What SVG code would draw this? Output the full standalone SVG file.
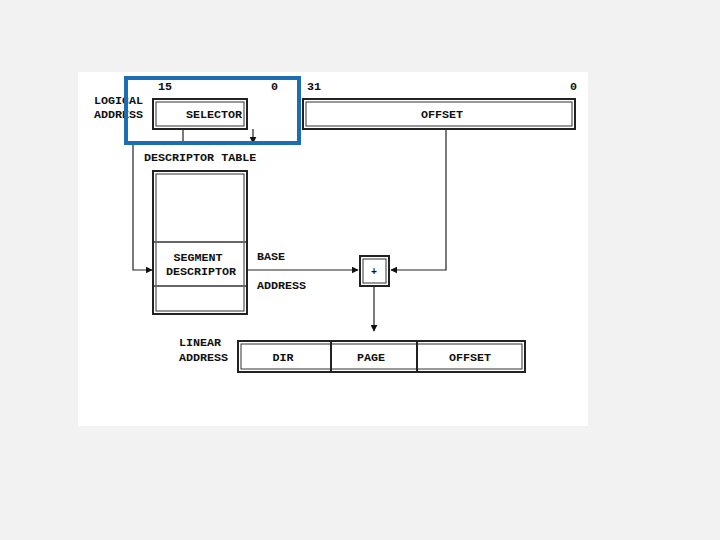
<svg xmlns="http://www.w3.org/2000/svg" width="720" height="540" viewBox="0 0 720 540">
<style>
text{font-family:"Liberation Mono","Courier New",monospace;font-size:11.7px;fill:#111;font-weight:bold}
.o{fill:#fff;stroke:#222;stroke-width:2}
.i{fill:none;stroke:#333;stroke-width:1}
.c{fill:none;stroke:#222;stroke-width:1.2}
.m{text-anchor:middle}
</style>
<defs>
<marker id="a" viewBox="0 0 10 10" refX="9" refY="5" markerWidth="7" markerHeight="7" markerUnits="userSpaceOnUse" orient="auto"><path d="M0,0L10,5L0,10z" fill="#111"/></marker>
</defs>
<rect width="720" height="540" fill="#f2f2f2"/>
<rect x="78" y="72" width="510" height="354" fill="#fff"/>
<g id="logical-label"><text x="94" y="104">LOGICAL</text><text x="94" y="118">ADDRESS</text></g>
<g id="selector">
<rect class="o" x="153" y="99" width="94" height="30"/><rect class="i" x="156" y="102" width="88" height="24"/>
<text class="m" x="214" y="118">SELECTOR</text>
<text x="158" y="90">15</text><text x="271" y="90">0</text>
</g>
<g id="offset">
<rect class="o" x="303" y="99" width="272" height="30"/><rect class="i" x="306" y="102" width="266" height="24"/>
<text class="m" x="442" y="118">OFFSET</text>
<text x="307" y="90">31</text><text x="570" y="90">0</text>
</g>
<g id="descriptor-table">
<text x="144" y="161">DESCRIPTOR TABLE</text>
<rect class="o" x="153" y="171" width="94" height="143"/><rect class="i" x="156" y="174" width="88" height="137"/>
<line x1="154" y1="242" x2="246" y2="242" stroke="#666" stroke-width="2"/>
<line x1="154" y1="286" x2="246" y2="286" stroke="#666" stroke-width="2"/>
<text class="m" x="198" y="261">SEGMENT</text><text class="m" x="201" y="275">DESCRIPTOR</text>
</g>
<g id="adder">
<rect class="o" x="360" y="256" width="29" height="30"/><rect class="i" x="363" y="259" width="23" height="24"/>
<text class="m" x="374" y="275" style="font-size:10px">+</text>
</g>
<g id="linear">
<text x="179" y="346">LINEAR</text><text x="179" y="361">ADDRESS</text>
<rect class="o" x="238" y="341" width="287" height="31"/><rect class="i" x="241" y="344" width="281" height="25"/>
<line x1="331" y1="342" x2="331" y2="371" stroke="#222" stroke-width="2"/>
<line x1="417" y1="342" x2="417" y2="371" stroke="#222" stroke-width="2"/>
<text class="m" x="283" y="361">DIR</text><text class="m" x="371" y="361">PAGE</text><text class="m" x="470" y="361">OFFSET</text>
</g>
<g id="labels"><text x="257" y="260">BASE</text><text x="257" y="289">ADDRESS</text></g>
<g id="connectors">
<line class="c" x1="183" y1="129" x2="183" y2="144" stroke="#777"/>
<line class="c" x1="253" y1="129" x2="253" y2="143" marker-end="url(#a)"/>
<polyline class="c" points="133,144 133,270 152,270" stroke="#3a1a22" marker-end="url(#a)"/>
<line class="c" x1="247" y1="270" x2="358" y2="270" marker-end="url(#a)"/>
<polyline class="c" points="446,129 446,270 391,270" stroke="#1a2a44" marker-end="url(#a)"/>
<line class="c" x1="374" y1="286" x2="374" y2="331" stroke="#1a2a55" marker-end="url(#a)"/>
</g>
<rect x="126" y="78" width="173" height="65" fill="none" stroke="#1c6db3" stroke-width="4"/>
</svg>
